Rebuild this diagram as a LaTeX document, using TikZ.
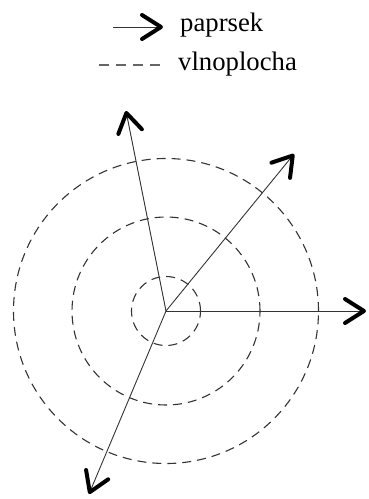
\documentclass[tikz,border=0pt]{standalone}
\usepackage{fontspec}
\newfontfamily\legfont{LiberationSerif-Regular.ttf}
\usetikzlibrary{arrows.meta}
\begin{document}
\begin{tikzpicture}[x=1pt,y=-1pt,
  ray/.style={line width=0.9pt,draw=black!80,
    -{Straight Barb[length=19pt,width=24pt,line width=4pt,round,color=black]}},
  wave/.style={line width=1.1pt,draw=black!80,dash pattern=on 9pt off 6pt},
  legtext/.style={anchor=base west,inner sep=0pt,font=\legfont\fontsize{26.7}{30}\selectfont}]
\useasboundingbox (0,0) rectangle (369,499);
% legend
\coordinate (l1a) at (113,27);
\coordinate (l1b) at (163,27);
\coordinate (l2a) at (99,65);
\coordinate (l2b) at (164,65);
\draw[ray] (l1a) -- (l1b);
\draw[wave,draw=black!60,dash pattern=on 10pt off 7pt] (l2a) -- (l2b);
\node[legtext] (t1) at (180,31) {paprsek};
\node[legtext] (t2) at (178,70) {vlnoplocha};
% wavefronts
\coordinate (c) at (166,311);
\draw[wave] (c) circle[radius=34.5pt];
\draw[wave] (c) circle[radius=94pt];
\draw[wave] (c) circle[radius=152.5pt];
% rays
\coordinate (r1) at (366,311);
\coordinate (r2) at (126,111);
\coordinate (r3) at (294,154);
\coordinate (r4) at (89,494);
\draw[ray] (c) -- (r1);
\draw[ray] (c) -- (r2);
\draw[ray] (c) -- (r3);
\draw[ray] (c) -- (r4);
\end{tikzpicture}
\end{document}
